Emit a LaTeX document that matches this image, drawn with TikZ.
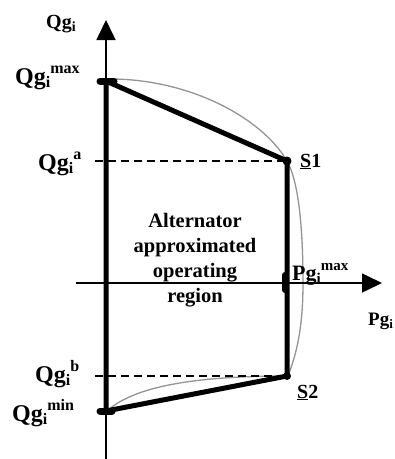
\documentclass[tikz,border=0pt]{standalone}
\usepackage{fontspec}
\setmainfont{Liberation Serif}
\usetikzlibrary{arrows.meta}
\newcommand\mysub[3]{\raisebox{-#2pt}{\fontsize{#1}{#1}\selectfont #3}}
\newcommand\mysup[3]{\raisebox{#2pt}{\fontsize{#1}{#1}\selectfont #3}}
\tikzset{
  axisline/.style={line width=1.6pt, -{Triangle[width=19pt,length=20pt]}},
  regionline/.style={line width=5pt, line join=round, line cap=round},
  markline/.style={line width=7pt, line cap=round},
  guide/.style={line width=2pt, dash pattern=on 8pt off 5pt},
  limitcurve/.style={line width=1.3pt, draw=black!42},
  lbl/.style={anchor=base west, inner sep=0pt, font=\fontsize{24}{24}\selectfont\bfseries},
  slbl/.style={anchor=base west, inner sep=0pt, font=\fontsize{20}{20}\selectfont\bfseries},
  regiontext/.style={anchor=base, inner sep=0pt, align=center,
    font=\fontsize{20.5}{24.7}\selectfont\bfseries}
}
\begin{document}
\begin{tikzpicture}[x=1pt,y=-1pt]
\useasboundingbox (0,0) rectangle (395,459);
% key points
\coordinate (ybot) at (106,459);
\coordinate (ytop) at (106,20);
\coordinate (xl) at (76,283);
\coordinate (xr) at (382,283);
\coordinate (qmax) at (106,81);
\coordinate (qmin) at (106,411);
\coordinate (s1) at (287,161);
\coordinate (s2) at (287,376);
\coordinate (qa) at (95,161);
\coordinate (qb) at (95,376);
% capability limit curve
\draw[limitcurve] (110,79) .. controls (190,79) and (262,118) .. (287,161)
  .. controls (299,182) and (303,230) .. (303,283)
  .. controls (303,330) and (296,355) .. (288,376)
  .. controls (200,376) and (130,385) .. (103,415);
% axes
\draw[axisline] (ybot) -- (ytop);
\draw[axisline] (xl) -- (xr);
% guides
\draw[guide] (qa) -- (s1);
\draw[guide] (qb) -- (s2);
% approximated region
\draw[regionline] (qmax) -- (s1) -- (s2) -- (qmin) -- cycle;
% markers
\draw[markline] (100,81) -- (114,81);
\draw[markline] (100,411) -- (112,411);
\draw[line width=6pt, line cap=round] (285,275) -- (285,290);
\fill (s1) circle (4.5pt);
\fill (s2) circle (4pt);
% labels
\node[slbl] (lqtop) at (46,28) {Qg\mysub{14}{3}{i}};
\node[lbl] (lqmax) at (15,84) {Qg\mysub{16}{3}{i}\mysup{16}{11}{max}};
\node[lbl] (lqa) at (38,170) {Qg\mysub{16}{3}{i}\mysup{16}{11}{a}};
\node[lbl] (lqb) at (35,382) {Qg\mysub{16}{3}{i}\mysup{16}{11}{b}};
\node[lbl] (lqmin) at (12,421) {Qg\mysub{16}{3}{i}\mysup{16}{11}{min}};
\node[anchor=base west, inner sep=0pt, font=\fontsize{22}{22}\selectfont\bfseries] (lpmax) at (292,280) {Pg\mysub{15}{3}{i}\mysup{15}{10}{max}};
\node[anchor=base west, inner sep=0pt, font=\fontsize{19}{19}\selectfont\bfseries] (lpg) at (368,325) {Pg\mysub{13}{3}{i}};
\node[slbl] (ls1) at (300,167) {\underline{S}1};
\node[slbl] (ls2) at (297,398) {\underline{S}2};
\node[regiontext] (reg) at (195,302) {Alternator\\approximated\\operating\\region};
\end{tikzpicture}
\end{document}
